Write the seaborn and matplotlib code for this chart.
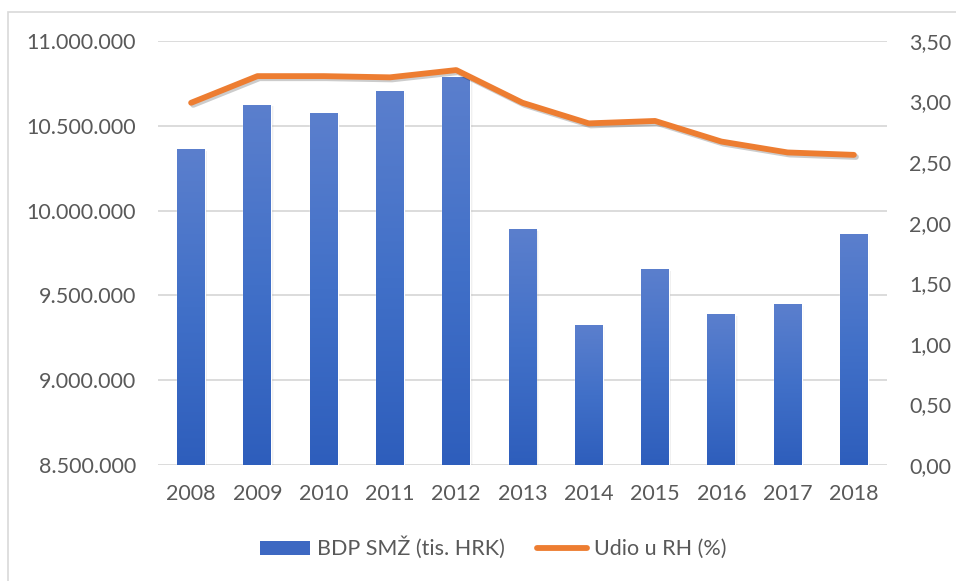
import numpy as np
import pandas as pd
import seaborn as sns
import matplotlib.pyplot as plt
import matplotlib.patheffects as pe
from matplotlib.colors import LinearSegmentedColormap
from matplotlib.lines import Line2D
from matplotlib.patches import Patch, Rectangle
from matplotlib.ticker import FuncFormatter

# data
years = [2008, 2009, 2010, 2011, 2012, 2013, 2014, 2015, 2016, 2017, 2018]
gdp = [10360000, 10620000, 10570000, 10700000, 10785000, 9887000,
       9320000, 9650000, 9386000, 9445000, 9858000]
share = [2.99, 3.21, 3.21, 3.20, 3.26, 2.99, 2.82, 2.84, 2.67, 2.58, 2.56]
bar_label = "BDP SMŽ (tis. HRK)"
line_label = "Udio u RH (%)"

df = pd.DataFrame({"year": years, "gdp": gdp, "share": share})

sns.set_style("white")
plt.rcParams["font.family"] = ["Lato", "DejaVu Sans"]
text_col = "#595959"
grid_col = "#d9d9d9"
orange = "#ed7d31"
ymin, ymax = 8500000, 11000000

fig = plt.figure(figsize=(9.56, 5.81), dpi=100)
ax = fig.add_axes([158 / 956, 1 - 465 / 581, 729 / 956, 424 / 581])

sns.barplot(data=df, x="year", y="gdp", native_scale=True, width=0.42,
            color="#4472c4", ax=ax, zorder=3)
ax.set_xlim(2007.5, 2018.5)
ax.set_ylim(ymin, ymax)
ax.set_yticks(np.arange(ymin, ymax + 1, 500000))
ax.set_xticks(years)
ax.yaxis.set_major_formatter(FuncFormatter(lambda v, p: f"{int(v):,}".replace(",", ".")))
ax.grid(axis="y", color=grid_col, lw=1.3, zorder=0)
ax.set_axisbelow(True)
for s in ax.spines.values():
    s.set_visible(False)
ax.tick_params(length=0, labelsize=15.5, labelcolor=text_col)
ax.tick_params(axis="x", pad=14)
ax.tick_params(axis="y", pad=16)
ax.set_xlabel("")
ax.set_ylabel("")

# gradient fill on bars, light at top to dark at the base
cmap = LinearSegmentedColormap.from_list("bl", ["#2e5ebc", "#4170c8", "#5b7fcd"])
grad = np.linspace(0, 1, 256).reshape(-1, 1)
for p in ax.patches:
    x0, w = p.get_x(), p.get_width()
    top = p.get_y() + p.get_height()
    # soft shadow to the right of each bar
    for k, a in [(0.012, 0.10), (0.024, 0.06), (0.036, 0.03)]:
        ax.add_patch(Rectangle((x0 + w, ymin), k, top - ymin - 6000,
                               facecolor="#404040", alpha=a, edgecolor="none", zorder=2))
    p.set_facecolor("none")
    im = ax.imshow(grad, cmap=cmap, aspect="auto", origin="lower",
                   extent=[x0, x0 + w, ymin, top], zorder=4)
ax.set_xlim(2007.5, 2018.5)
ax.set_ylim(ymin, ymax)

ax2 = ax.twinx()
sns.lineplot(data=df, x="year", y="share", ax=ax2, color=orange, lw=4.2,
             solid_capstyle="round", solid_joinstyle="round",
             path_effects=[pe.SimpleLineShadow(offset=(1.5, -1.5), alpha=0.2), pe.Normal()])
ax2.set_ylim(0, 3.5)
ax2.set_yticks(np.arange(0, 3.51, 0.5))
ax2.yaxis.set_major_formatter(FuncFormatter(lambda v, p: f"{v:.2f}".replace(".", ",")))
for s in ax2.spines.values():
    s.set_visible(False)
ax2.tick_params(length=0, labelsize=15.5, labelcolor=text_col, pad=16)
ax2.set_ylabel("")
ax2.grid(False)

handles = [Patch(facecolor="#3d68c2", edgecolor="none", label=bar_label),
           Line2D([0], [0], color=orange, lw=4.2, solid_capstyle="round", label=line_label)]
fig.legend(handles=handles, loc="center", bbox_to_anchor=(493 / 956, 1 - 548 / 581),
           ncol=2, frameon=False, fontsize=15.5, labelcolor=text_col,
           handlelength=2.35, handleheight=0.6, handletextpad=0.3, columnspacing=1.5)

# outer chart border
fig.patches.append(Rectangle((8 / 956, -0.05), 1.1, 1 - 12 / 581 + 0.05,
                             transform=fig.transFigure, fill=False,
                             edgecolor=grid_col, lw=1.2))

fig.savefig("out.png", dpi=100)
